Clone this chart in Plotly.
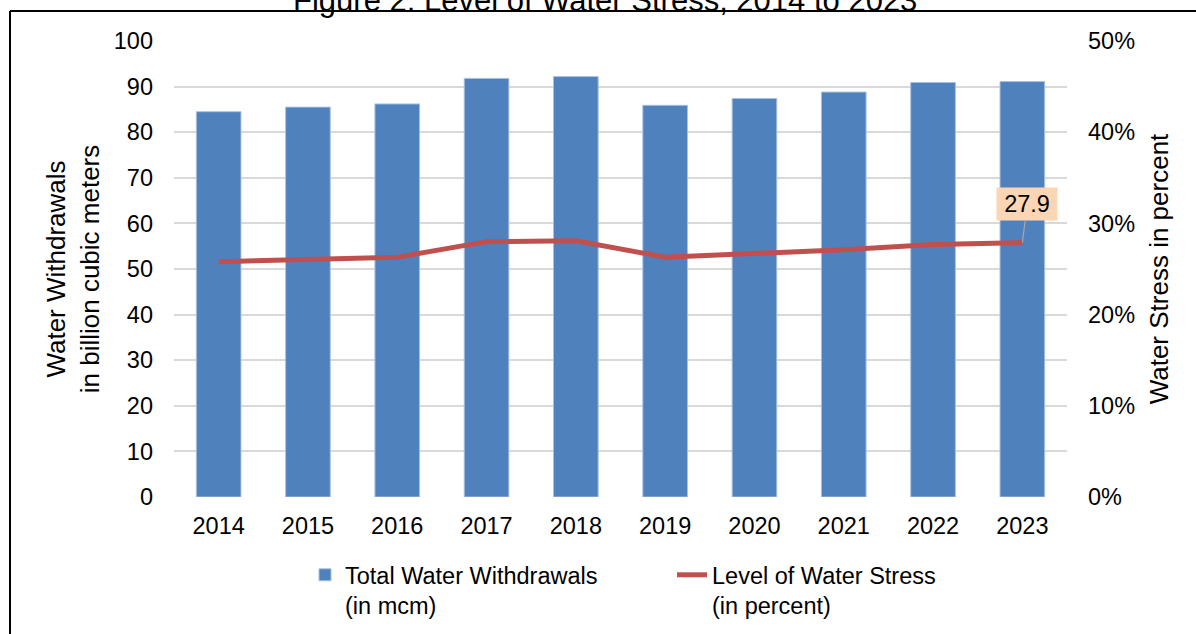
import plotly.graph_objects as go

years = ["2014", "2015", "2016", "2017", "2018", "2019", "2020", "2021", "2022", "2023"]
withdrawals = [84.5, 85.5, 86.2, 91.8, 92.2, 85.9, 87.4, 88.8, 90.9, 91.1]
stress = [25.8, 26.0, 26.3, 28.0, 28.1, 26.3, 26.7, 27.1, 27.7, 27.9]
label_year = "2023"
label_value = 27.9

title_text = "Figure 2: Level of Water Stress, 2014 to 2023"
bar_name = "Total Water Withdrawals<br>(in mcm)"
line_name = "Level of Water Stress<br>(in percent)"
y1_title = "Water Withdrawals<br>in billion cubic meters"
y2_title = "Water Stress in percent"

FONT = "Liberation Sans, Arial, sans-serif"

fig = go.Figure()
fig.add_trace(go.Bar(
    x=years, y=withdrawals, name=bar_name,
    marker=dict(color="#4F81BD", line=dict(color="#A9C1E0", width=1)),
    yaxis="y",
))
fig.add_trace(go.Scatter(
    x=years, y=stress, name=line_name, mode="lines",
    line=dict(color="#C0504D", width=5),
    yaxis="y2",
))

L, R, T, B = 174, 129, 41, 137
W, H = 1196, 634
pw, ph = W - L - R, H - T - B

def px_x(p):
    return (p - L) / pw

def px_y(p):
    return (H - B - p) / ph

fig.update_layout(
    width=W, height=H,
    margin=dict(l=L, r=R, t=T, b=B, autoexpand=False),
    paper_bgcolor="white", plot_bgcolor="white",
    font=dict(family=FONT, size=23.5, color="#000000"),
    bargap=0.5,
    showlegend=True,
    legend=dict(
        orientation="h", x=px_x(305), xanchor="left", y=px_y(553), yanchor="top",
        font=dict(size=23.5), valign="top",
        entrywidth=322, entrywidthmode="pixels",
        bgcolor="rgba(0,0,0,0)", traceorder="normal",
    ),
    xaxis=dict(
        type="category", categoryorder="array", categoryarray=years,
        range=[-0.5, len(years) - 0.5], autorange=False,
        showgrid=False, showline=False, zeroline=False,
        ticks="", tickfont=dict(size=23.5), ticklabelstandoff=12,
    ),
    yaxis=dict(
        range=[0, 100], dtick=10, showgrid=True, gridcolor="#D9D9D9", gridwidth=1.5,
        zeroline=False, showline=False, ticks="", tickfont=dict(size=23.5),
        ticklabelstandoff=20,
        title=dict(text=y1_title, font=dict(size=26), standoff=6),
    ),
    yaxis2=dict(
        range=[0, 50], dtick=10, overlaying="y", side="right", showgrid=False,
        zeroline=False, showline=False, ticks="", ticksuffix="%",
        tickfont=dict(size=23.5), ticklabelstandoff=20,
        title=dict(text=y2_title, font=dict(size=26), standoff=15),
    ),
)

fig.add_annotation(
    x=years.index(label_year), y=label_value, xref="x", yref="y2",
    text=f"{label_value:.1f}", showarrow=True, arrowhead=0, arrowwidth=1.2,
    arrowcolor="#A6A6A6", ax=5, ay=-39,
    bgcolor="#FCD5B4", font=dict(size=23.5, color="#000000"),
    width=56, height=28, borderpad=2,
)

fig.add_annotation(
    x=px_x(605), y=px_y(0), xref="paper", yref="paper",
    text=title_text, showarrow=False, xanchor="center", yanchor="middle",
    font=dict(size=31, color="#000000"),
)

fig.add_shape(type="line", xref="paper", yref="paper",
              x0=px_x(10), x1=px_x(10), y0=px_y(11), y1=px_y(700),
              line=dict(color="black", width=2))
fig.add_shape(type="line", xref="paper", yref="paper",
              x0=px_x(10), x1=px_x(1250), y0=px_y(11), y1=px_y(11),
              line=dict(color="black", width=2))

fig.write_html(
    "out.html",
    config={"displayModeBar": False},
    post_script="document.body.style.margin='0';document.body.style.overflow='hidden';",
)
